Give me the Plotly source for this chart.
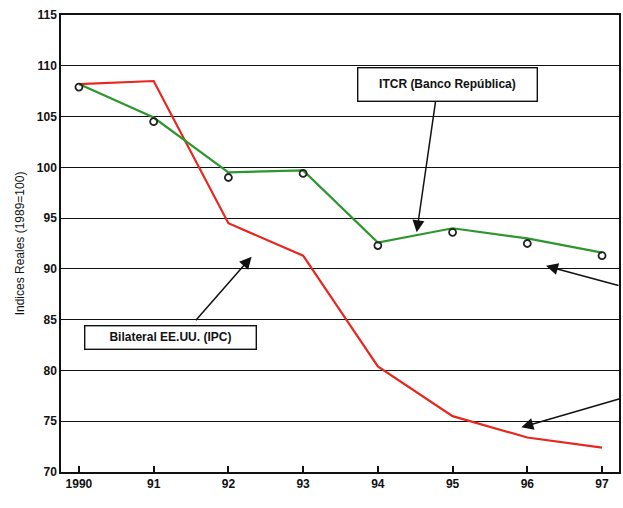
import plotly.graph_objects as go

years = [1990, 1991, 1992, 1993, 1994, 1995, 1996, 1997]
tick_text = ["1990", "91", "92", "93", "94", "95", "96", "97"]
itcr_line = [108.2, 104.9, 99.5, 99.7, 92.6, 94.0, 93.0, 91.6]
itcr_marks = [107.9, 104.5, 99.0, 99.4, 92.3, 93.6, 92.5, 91.3]
bilateral = [108.2, 108.5, 94.5, 91.3, 80.4, 75.5, 73.4, 72.4]
y_ticks = [70, 75, 80, 85, 90, 95, 100, 105, 110, 115]

FONT = "Liberation Sans"

fig = go.Figure()
fig.add_trace(go.Scatter(x=years, y=bilateral, mode="lines",
                         line=dict(color="#e8261e", width=2.2),
                         name="Bilateral EE.UU. (IPC)"))
fig.add_trace(go.Scatter(x=years, y=itcr_line, mode="lines",
                         line=dict(color="#2e962e", width=2.2),
                         name="ITCR (Banco República)"))
fig.add_trace(go.Scatter(x=years, y=itcr_marks, mode="markers",
                         marker=dict(symbol="circle-open", size=7, color="#222",
                                     line=dict(width=1.8, color="#222")),
                         name="ITCR"))

# label boxes
fig.add_annotation(x=1994.93, y=108.2, xref="x", yref="y", text="ITCR (Banco República)",
                   showarrow=False, bordercolor="#111", borderwidth=1.4, bgcolor="white",
                   width=174, height=28, borderpad=2,
                   font=dict(family=FONT, size=12, color="#111", weight="bold"))
fig.add_annotation(x=1991.22, y=83.2, xref="x", yref="y", text="Bilateral EE.UU. (IPC)",
                   showarrow=False, bordercolor="#111", borderwidth=1.4, bgcolor="white",
                   width=166, height=18, borderpad=2,
                   font=dict(family=FONT, size=12, color="#111", weight="bold"))

# arrows
arrow = dict(showarrow=True, arrowhead=2, arrowsize=1.6, arrowwidth=1.5,
             arrowcolor="#111", text="", xref="x", yref="y")
fig.add_annotation(x=1994.52, y=93.6, ax=19, ay=-132, **arrow)
fig.add_annotation(x=1992.31, y=91.2, ax=-57, ay=65, **arrow)
fig.add_annotation(x=1996.25, y=90.3, ax=74, ay=20, **arrow)
fig.add_annotation(x=1995.92, y=74.4, ax=100, ay=-29, **arrow)

fig.update_layout(
    width=623, height=508,
    margin=dict(l=61, r=2, t=15, b=36),
    paper_bgcolor="white", plot_bgcolor="white",
    showlegend=False,
    font=dict(family=FONT, color="#111"),
)
fig.update_xaxes(range=[1989.76, 1997.227], tickvals=years, ticktext=tick_text,
                 showgrid=False, zeroline=False,
                 showline=True, linecolor="#111", linewidth=1.5, mirror=True,
                 ticks="inside", ticklen=6, tickwidth=1.5, tickcolor="#111",
                 tickfont=dict(family=FONT, size=12, color="#111", weight="bold"))
fig.update_yaxes(range=[70, 115], tickvals=y_ticks,
                 showgrid=True, gridcolor="#111", gridwidth=1.3, zeroline=False,
                 showline=True, linecolor="#111", linewidth=1.5, mirror=True,
                 ticks="", tickfont=dict(family=FONT, size=12, color="#111", weight="bold"),
                 title=dict(text="Indices Reales (1989=100)",
                            font=dict(family=FONT, size=12, color="#111"), standoff=10))

fig.write_html("out.html")
